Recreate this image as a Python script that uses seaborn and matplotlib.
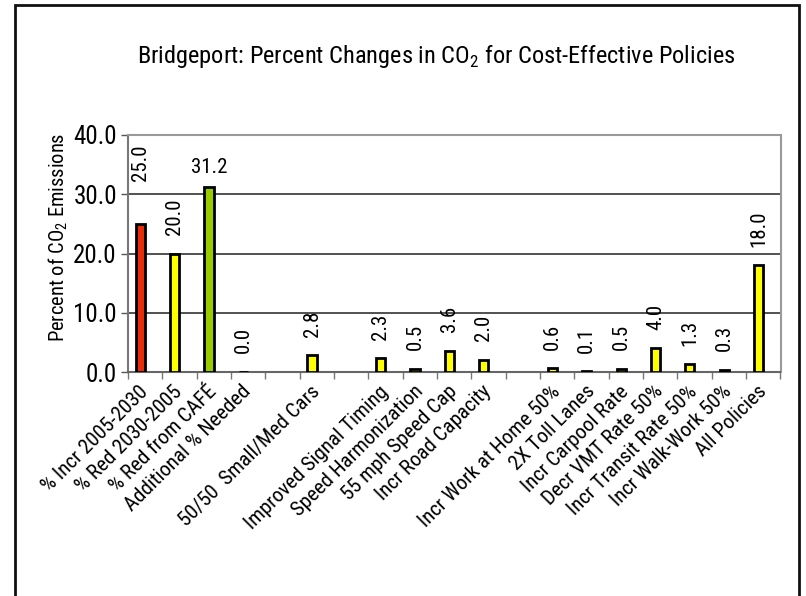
import numpy as np
import pandas as pd
import matplotlib
matplotlib.use("Agg")
import matplotlib.pyplot as plt
from matplotlib import font_manager
import seaborn as sns

# ---- data ----
categories = [
    "% Incr 2005-2030", "% Red 2030-2005", "% Red from CAFÉ", "Additional % Needed",
    "", "50/50  Small/Med Cars", "", "Improved Signal Timing", "Speed Harmonization",
    "55 mph Speed Cap", "Incr Road Capacity", "", "Incr Work at Home 50%",
    "2X Toll Lanes", "Incr Carpool Rate", "Decr VMT Rate 50%", "Incr Transit Rate 50%",
    "Incr Walk-Work 50%", "All Policies",
]
values = [25.0, 20.0, 31.2, 0.0, np.nan, 2.8, np.nan, 2.3, 0.5, 3.6, 2.0, np.nan,
          0.6, 0.1, 0.5, 4.0, 1.3, 0.3, 18.0]
bar_colors = ["#E62E0A", "#FFFF00", "#99CC00"] + ["#FFFF00"] * 16
y_ticks = [0.0, 10.0, 20.0, 30.0, 40.0]

sns.set_theme(style="white")

# pick a narrow sans face if one is installed
fonts = font_manager.fontManager.ttflist
narrow = None
for pref in ["Liberation Sans Narrow", "Roboto Condensed", "Open Sans Condensed",
             "DejaVu Sans Condensed", "Noto Sans Condensed"]:
    if any(f.name == pref for f in fonts):
        narrow = pref
        break
if narrow is None:
    cands = [f for f in fonts if ("Narrow" in f.name or "Condensed" in f.name
                                  or str(f.stretch).lower() in ("condensed", "semi-condensed"))
             and "Mono" not in f.name and "Serif" not in f.name]
    narrow = cands[0].name if cands else "Liberation Sans"
plt.rcParams["font.family"] = [narrow, "DejaVu Sans"]
plt.rcParams["font.stretch"] = "condensed"
plt.rcParams["mathtext.fontset"] = "custom"
plt.rcParams["mathtext.rm"] = narrow
plt.rcParams["text.color"] = "black"
plt.rcParams["xtick.color"] = "black"
plt.rcParams["ytick.color"] = "black"
plt.rcParams["axes.labelcolor"] = "black"

fig = plt.figure(figsize=(8.06, 5.96), dpi=100)
ax = fig.add_axes([128 / 806, 1 - 372 / 596, (780.5 - 128) / 806, (372 - 135) / 596])

df = pd.DataFrame({"slot": np.arange(len(categories)), "value": values})
df["pos"] = df["slot"] - 0.14
sns.barplot(data=df.dropna(), x="pos", y="value", native_scale=True, width=0.27,
            color="#FFFF00", edgecolor="black", linewidth=2, ax=ax)

# per-bar fill colours
drawn = df.dropna().reset_index(drop=True)
for patch, slot in zip(ax.patches, drawn["slot"]):
    patch.set_facecolor(bar_colors[int(slot)])
    patch.set_zorder(3)

ax.set_xlim(-0.5, len(categories) - 0.5)
ax.set_ylim(0, 40)

# value labels
for slot, v in zip(df["slot"], df["value"]):
    if np.isnan(v):
        continue
    x = slot - 0.14
    if slot == 2:
        ax.annotate(f"{v:.1f}", (x, v), xytext=(0, 7), textcoords="offset points",
                    ha="center", va="bottom", fontsize=15, color="black")
    else:
        lift = 31 if slot == 0 else 13.5
        ax.annotate(f"{v:.1f}", (x, v), xytext=(0, lift), textcoords="offset points",
                    ha="center", va="bottom", rotation=90, fontsize=15, color="black")

# grid and frame
for y in y_ticks[1:-1]:
    ax.axhline(y, color="#222222", linewidth=1.1, zorder=1)
for side in ["top", "right", "left"]:
    ax.spines[side].set_color("#999999")
    ax.spines[side].set_linewidth(1.5)
ax.spines["bottom"].set_color("#666666")
ax.spines["bottom"].set_linewidth(1.5)
ax.spines["left"].set_color("#777777")

ax.set_yticks(y_ticks)
ax.set_yticklabels([f"{t:.1f}" for t in y_ticks], fontsize=18)
ax.tick_params(axis="y", which="major", direction="out", length=5, width=1,
               color="#555555", labelcolor="black", left=True, pad=3)

# x ticks between categories, labels at category centres
ax.set_xticks(np.arange(-0.5, len(categories) + 0.5, 1.0))
ax.set_xticklabels([])
ax.tick_params(axis="x", which="major", direction="out", length=5, width=1,
               color="#777777", bottom=True)
ax.set_xticks(np.arange(len(categories)), minor=True)
ax.set_xticklabels(categories, minor=True, rotation=45, ha="right", va="center",
                   rotation_mode="anchor", fontsize=15)
ax.tick_params(axis="x", which="minor", length=0, pad=12, labelcolor="black")

ax.set_xlabel("")
ax.set_ylabel("Percent of CO$_2$ Emissions", fontsize=14.8)
ax.yaxis.set_label_coords(-0.089, 0.567)

fig.text(436 / 806, 1 - 56 / 596, "Bridgeport: Percent Changes in CO$_2$ for Cost-Effective Policies",
         ha="center", va="center", fontsize=17.6)

# outer chart frame
fig.add_artist(plt.Rectangle((15 / 806, -0.05), (799 - 15) / 806, 1.05 - 5 / 596,
                             transform=fig.transFigure, fill=False,
                             edgecolor="#111111", linewidth=2))

fig.savefig("out.png", dpi=100, facecolor="white")
